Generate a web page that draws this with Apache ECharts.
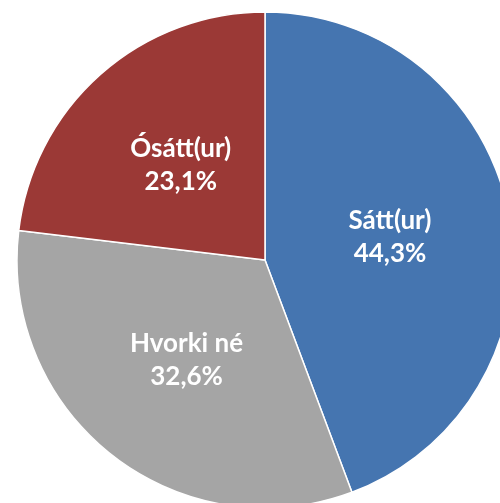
<!DOCTYPE html>
<html><head><meta charset="utf-8">
<script src="https://cdn.jsdelivr.net/npm/echarts@6/dist/echarts.min.js"></script>
<style>html,body{margin:0;padding:0;background:#fff}#c{width:500px;height:503px}</style>
</head><body><div id="c"></div>
<script>
const categories = ['Sátt(ur)', 'Hvorki né', 'Ósátt(ur)'];
const values = [44.3, 32.6, 23.1];
const colors = ['#4575B0', '#A5A5A5', '#9B3936'];
const chart = echarts.init(document.getElementById('c'));
chart.setOption({
  animation: false,
  series: [{
    type: 'pie',
    center: [265, 260],
    radius: [0, 248],
    startAngle: 90,
    clockwise: true,
    data: categories.map((n, i) => ({name: n, value: values[i], itemStyle: {color: colors[i]}})),
    itemStyle: {borderColor: '#fff', borderWidth: 1.5},
    label: {
      show: true, position: 'inside',
      color: '#fff', fontFamily: 'Lato', fontWeight: 'bold', fontSize: 26, lineHeight: 33,
      formatter: p => p.name + '\n' + p.value.toFixed(1).replace('.', ',') + '%'
    },
    labelLine: {show: false},
    emphasis: {disabled: true}
  }]
});
</script></body></html>
